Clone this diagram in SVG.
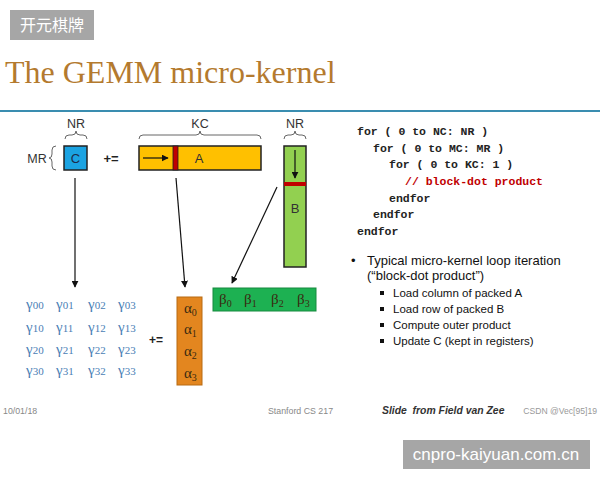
<svg xmlns="http://www.w3.org/2000/svg" width="600" height="480" viewBox="0 0 600 480">
<defs>
<marker id="ah" viewBox="0 0 10 10" refX="9" refY="5" markerWidth="7" markerHeight="7" markerUnits="userSpaceOnUse" orient="auto"><path d="M0,0 L10,5 L0,10 z" fill="#111"/></marker>
<style>
.lbl{font-family:"Liberation Sans",Arial,sans-serif;font-size:12.5px;fill:#333;text-anchor:middle}
.brace{fill:none;stroke:#666;stroke-width:1}
.box{stroke:#222;stroke-width:1.5}
.conn{stroke:#111;stroke-width:1.2;fill:none;marker-end:url(#ah)}
.code{font-family:"Liberation Mono","Courier New",monospace;font-weight:bold;font-size:11.5px;fill:#222}
.gam{font-family:"Liberation Serif","DejaVu Serif",serif;font-size:15px;fill:#4A7EB5}
.gam tspan{font-size:11px}
.grk{font-family:"Liberation Serif","DejaVu Serif",serif;font-size:15px;fill:#3a2a10}
.sub{font-size:10px}
.b1{font-family:"Liberation Sans",Arial,sans-serif;font-size:13px;fill:#111}
.b2{font-family:"Liberation Sans",Arial,sans-serif;font-size:11.5px;fill:#111}
.foot{font-family:"Liberation Sans",Arial,sans-serif;font-size:8.8px;fill:#888}
</style>
</defs>
<rect width="600" height="480" fill="#fff"/>
<g id="wm-top"><rect x="10" y="10" width="84" height="30" fill="#a6a6a6"/><text x="52" y="31" text-anchor="middle" font-family="'Noto Sans CJK SC',sans-serif" font-size="16" fill="#fff">开元棋牌</text></g>
<g id="title"><text x="5" y="83" font-family="'Liberation Serif','Times New Roman',serif" font-size="32" fill="#B47A2E">The GEMM micro-kernel</text>
<line x1="0" y1="111" x2="600" y2="111" stroke="#3A8DB0" stroke-width="1.8"/></g>

<g id="C">
<text class="lbl" x="76" y="128">NR</text>
<path class="brace" d="M65,139 Q65,135 69,135 L72,135 Q76,135 76,131 Q76,135 80,135 L83,135 Q87,135 87,139"/>
<text class="lbl" x="37" y="163">MR</text>
<path class="brace" d="M56,146 Q52,146 52,150 L52,154 Q52,158 49,158 Q52,158 52,162 L52,166 Q52,170 56,170"/>
<rect class="box" x="64" y="146" width="23" height="24" fill="#1BA3E2"/>
<text x="75.5" y="163" text-anchor="middle" font-family="'Liberation Sans',Arial,sans-serif" font-size="13" fill="#1d2b4a">C</text>
</g>
<g id="pluseq1"><text x="111" y="163" text-anchor="middle" font-family="'Liberation Sans',Arial,sans-serif" font-size="13" font-weight="bold" fill="#222">+=</text></g>
<g id="A">
<text class="lbl" x="200" y="128">KC</text>
<path class="brace" d="M139,139 Q139,135 143,135 L196,135 Q200,135 200,131 Q200,135 204,135 L257,135 Q261,135 261,139"/>
<rect class="box" x="139" y="146" width="122" height="24" fill="#FFC000"/>
<rect x="173" y="146" width="5" height="24" fill="#C00000" stroke="#222" stroke-width="0.8"/>
<line x1="143" y1="158" x2="168" y2="158" stroke="#111" stroke-width="1.2" marker-end="url(#ah)"/>
<text x="199" y="163" text-anchor="middle" font-family="'Liberation Sans',Arial,sans-serif" font-size="13" fill="#333">A</text>
</g>
<g id="B">
<text class="lbl" x="295" y="128">NR</text>
<path class="brace" d="M284,139 Q284,135 288,135 L291,135 Q295,135 295,131 Q295,135 299,135 L302,135 Q306,135 306,139"/>
<rect class="box" x="284" y="146" width="22" height="121" fill="#92D050"/>
<rect x="284" y="182" width="22" height="4" fill="#C00000"/>
<line x1="295" y1="150" x2="295" y2="178" stroke="#111" stroke-width="1.2" marker-end="url(#ah)"/>
<text x="295" y="213" text-anchor="middle" font-family="'Liberation Sans',Arial,sans-serif" font-size="13" fill="#333">B</text>
</g>

<g id="connectors">
<line class="conn" x1="75" y1="178" x2="75" y2="287"/>
<line class="conn" x1="176" y1="178" x2="185" y2="287"/>
<line class="conn" x1="277" y1="187" x2="232" y2="283"/>
</g>

<g id="gamma">
<text class="gam" x="26" y="309">γ<tspan>00</tspan></text>
<text class="gam" x="56" y="309">γ<tspan>01</tspan></text>
<text class="gam" x="88" y="309">γ<tspan>02</tspan></text>
<text class="gam" x="118" y="309">γ<tspan>03</tspan></text>
<text class="gam" x="26" y="332">γ<tspan>10</tspan></text>
<text class="gam" x="56" y="332">γ<tspan>11</tspan></text>
<text class="gam" x="88" y="332">γ<tspan>12</tspan></text>
<text class="gam" x="118" y="332">γ<tspan>13</tspan></text>
<text class="gam" x="26" y="354">γ<tspan>20</tspan></text>
<text class="gam" x="56" y="354">γ<tspan>21</tspan></text>
<text class="gam" x="88" y="354">γ<tspan>22</tspan></text>
<text class="gam" x="118" y="354">γ<tspan>23</tspan></text>
<text class="gam" x="26" y="375">γ<tspan>30</tspan></text>
<text class="gam" x="56" y="375">γ<tspan>31</tspan></text>
<text class="gam" x="88" y="375">γ<tspan>32</tspan></text>
<text class="gam" x="118" y="375">γ<tspan>33</tspan></text>
</g>
<g id="pluseq2"><text x="156" y="344" text-anchor="middle" font-family="'Liberation Sans',Arial,sans-serif" font-size="12" font-weight="bold" fill="#222">+=</text></g>
<g id="alpha">
<rect x="177" y="297" width="25" height="88" fill="#E3861F" stroke="#b86a12" stroke-width="1"/>
<text class="grk" x="184" y="313">α<tspan class="sub" dy="3">0</tspan></text>
<text class="grk" x="184" y="334">α<tspan class="sub" dy="3">1</tspan></text>
<text class="grk" x="184" y="356">α<tspan class="sub" dy="3">2</tspan></text>
<text class="grk" x="184" y="378">α<tspan class="sub" dy="3">3</tspan></text>
</g>
<g id="beta">
<rect x="213" y="288" width="103" height="23" fill="#1DB152" stroke="#168a3f" stroke-width="1"/>
<text class="grk" x="219" y="304">β<tspan class="sub" dy="3">0</tspan></text>
<text class="grk" x="244" y="304">β<tspan class="sub" dy="3">1</tspan></text>
<text class="grk" x="271" y="304">β<tspan class="sub" dy="3">2</tspan></text>
<text class="grk" x="297" y="304">β<tspan class="sub" dy="3">3</tspan></text>
</g>

<g id="code">
<text class="code" x="357" y="135">for ( 0 to NC: NR )</text>
<text class="code" x="373" y="152">for ( 0 to MC: MR )</text>
<text class="code" x="389" y="168">for ( 0 to KC: 1 )</text>
<text class="code" x="405" y="185" style="fill:#C00000">// block-dot product</text>
<text class="code" x="389" y="202">endfor</text>
<text class="code" x="373" y="218">endfor</text>
<text class="code" x="357" y="235">endfor</text>
</g>

<g id="bullets">
<text class="b1" x="351" y="265">•</text>
<text class="b1" x="367" y="265">Typical micro-kernel loop iteration</text>
<text class="b1" x="367" y="280">(“block-dot product”)</text>
<rect x="380" y="291" width="4" height="4" fill="#111"/>
<text class="b2" x="393" y="297">Load column of packed A</text>
<rect x="380" y="307" width="4" height="4" fill="#111"/>
<text class="b2" x="393" y="313">Load row of packed B</text>
<rect x="380" y="323" width="4" height="4" fill="#111"/>
<text class="b2" x="393" y="329">Compute outer product</text>
<rect x="380" y="339" width="4" height="4" fill="#111"/>
<text class="b2" x="393" y="345">Update C (kept in registers)</text>
</g>

<g id="footer">
<text class="foot" x="3" y="414">10/01/18</text>
<text class="foot" x="268" y="414">Stanford CS 217</text>
<text x="382" y="414" font-family="'Liberation Sans',Arial,sans-serif" font-size="10.4" font-weight="bold" font-style="italic" fill="#333" xml:space="preserve">Slide  from Field van Zee</text>
<text x="597" y="414" text-anchor="end" font-family="'Liberation Sans',Arial,sans-serif" font-size="8.6" fill="#999">CSDN @Vec[95]19</text>
</g>
<g id="wm-bottom"><rect x="403" y="440" width="187" height="29" fill="#a6a6a6"/><text x="496" y="460" text-anchor="middle" font-family="'Liberation Sans',Arial,sans-serif" font-size="17" fill="#fff">cnpro-kaiyuan.com.cn</text></g>
</svg>
